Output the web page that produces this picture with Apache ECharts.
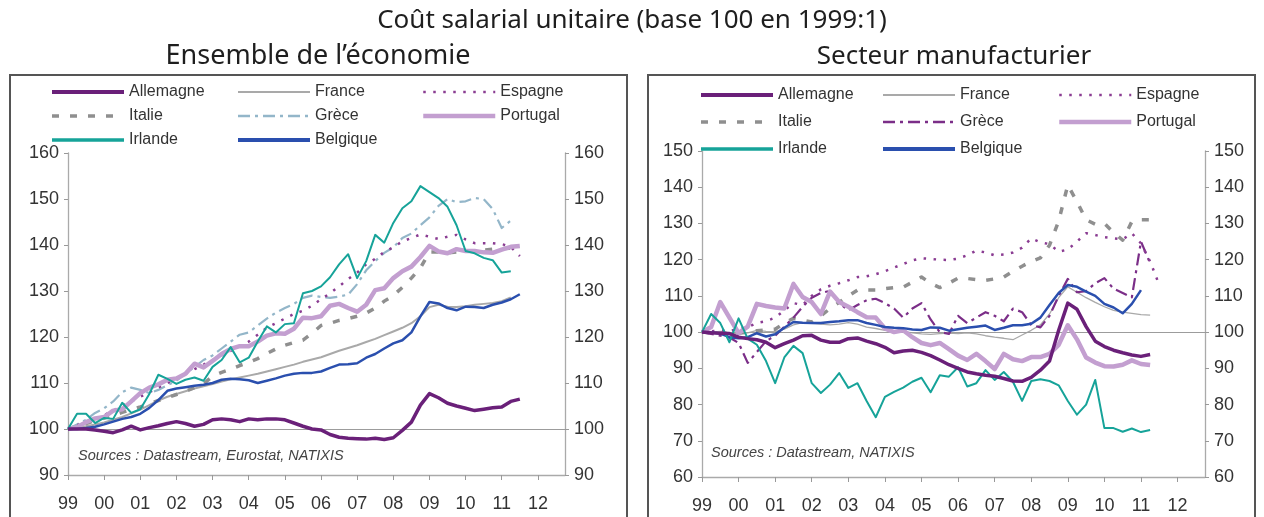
<!DOCTYPE html>
<html><head><meta charset="utf-8">
<script src="https://cdn.jsdelivr.net/npm/echarts@6/dist/echarts.min.js"></script>
<style>html,body{margin:0;padding:0;background:#fff}#c{width:1264px;height:517px}</style>
</head><body><div id="c"></div>
<script>
// ---- tick labels / categories (quarters 1999Q1 .. 2012Q4) ----
const years = ['99','00','01','02','03','04','05','06','07','08','09','10','11','12'];
const categories = [];
years.forEach(y => { for (let q = 1; q <= 4; q++) categories.push(y + 'T' + q); });

const names = ['Allemagne','France','Espagne','Italie','Grèce','Portugal','Irlande','Belgique'];

// ---- Ensemble de l'économie ----
const L_Allemagne = [100,100,100,99.8,99.5,99.2,99.8,100.6,99.8,100.3,100.7,101.2,101.6,101.2,100.6,101,102,102.2,102,101.6,102.2,102,102.2,102.2,102,101.3,100.6,100,99.8,98.8,98.2,98,97.9,97.8,98,97.7,98.1,99.7,101.5,105.2,107.7,106.8,105.6,105,104.5,104,104.3,104.6,104.8,106,106.5];
const L_France = [100,100.3,100.6,101,101.4,102,102.6,103.4,104.2,105.2,106.2,107,107.6,108.2,108.8,109.3,109.8,110.3,110.8,111.2,111.6,112,112.5,113,113.5,114,114.6,115.1,115.6,116.3,117,117.6,118.2,118.9,119.6,120.4,121.2,122,123,124.5,126.5,127,126.6,126.5,126.7,127,127.2,127.4,127.8,128.6];
const L_Espagne = [100,100.8,101.5,102.3,103,104,105,106,107,108,109,110,111,112,113,114,115,116,117,118,119,120.5,122,123,124,125,125.7,126.8,128.2,129.5,131,132.6,134,135.8,137,138.5,139.5,140.8,141.5,142.3,141.8,141.3,141.8,142.2,141.2,140.4,140.4,140.4,140.2,139.6,137.6];
const L_Italie = [100,100.6,101.2,101.8,102.4,103,103.6,104.2,104.8,105.5,106.2,106.8,107.5,108.2,109,109.8,111.5,112.3,113,113.8,114.5,115.3,116.4,117.4,118.2,118.8,119.3,120.8,122.5,123,123.6,124,124.5,125.2,126.3,127.8,129,130.8,132.8,135,138.5,138.5,138.3,138.5,138.6,138.7,138.9,139.1,139.2,139.3,139.4];
const L_Grece = [100,101,102,103.5,104.5,106,108,109,108.5,107.8,108.5,109.5,110.5,112,113.5,115,116,117.5,119,120.5,121,122.5,124,125.3,126.3,127.2,128.5,129,128.7,128.5,128.8,129.2,131.5,134.5,136.5,138.3,139.5,141.5,142.5,144.3,146,148.5,150,149.3,149.5,150.2,150,147.8,143.7,145.3];
const L_Portugal = [100,100.4,101.5,102.3,102.6,104,104.3,106,107.8,109,109.7,110.7,111,112,114.2,113.4,114.8,116.3,117.4,118,118,119,120.3,120.8,120.7,121.8,124.2,124.1,124.5,126.8,127.2,126.3,125.5,127,130.2,130.6,132.8,134.3,135.3,137.4,139.8,138.6,138.2,139.1,138.7,138.7,138.4,138.3,139,139.6,139.8];
const L_Irlande = [100,103.3,103.3,101.3,102.4,102.2,105.7,103.5,104.3,107.6,111.8,110.9,109.8,110.7,111.2,110.5,113.5,115,117.8,114.5,115.5,119,122.3,121,122.8,123,129.5,130,131,133,135.8,138,132.8,136.5,142.2,140.5,144.8,148,149.5,152.8,151.5,150.2,148.3,144.3,138.7,138.2,137.2,136.7,134,134.3];
const L_Belgique = [100,100,100.2,100.5,101,101.6,102.2,102.6,103.3,104.6,106.3,108.3,108.8,109.1,109.4,109.6,110,110.7,110.9,110.8,110.6,110,110.5,111,111.6,112,112.2,112.2,112.5,113.3,114,114.1,114.3,115.5,116.3,117.5,118.6,119.3,121,124.5,127.6,127.3,126.3,125.8,126.6,126.5,126.3,127,127.5,128.2,129.3];

// ---- Secteur manufacturier ----
const R_Allemagne = [100,99.8,99.7,99.6,98.6,98.2,97.9,97.2,95.7,96.8,97.8,99,99.1,97.8,97.2,97.2,98.2,98.4,97.5,96.8,95.8,94.3,94.8,95,94.4,93.5,92.3,91,90,89,88.5,88.1,87.8,87.2,86.5,86.4,87.5,89.5,92,100.5,108,106.3,101.5,97.5,96,95,94.3,93.7,93.3,93.8];
const R_France = [100,100,100.2,99.8,99.6,99.8,100.5,100.2,100.1,100.8,102,102.6,102.4,102.2,102,102.2,102.6,102.2,101.4,101,100.5,100.3,100.2,99.8,99.5,99.4,99.6,99.7,99.6,99.8,99.5,99,98.6,98.3,97.9,99.2,100.5,102,105,109.5,112.5,111,109.5,108.2,107,106,105.5,105.2,104.8,104.7];
const R_Espagne = [100,100.2,100.5,100.3,100.8,101.4,102.5,103,104,106,108,107.5,110,111.8,112.8,113.5,114.3,115.2,115.4,116,116.8,117.8,118.8,119.8,120.4,120.2,120,119.9,120.3,121.2,122.5,122,121.2,121.4,122,123.3,125.9,124.8,124.3,122.2,122.8,125,127.3,126.8,126.2,125.9,125.6,127.3,124.5,119.5,113];
const R_Italie = [100,99.8,99.6,99.6,99.7,100,100.4,100.6,100.8,102.5,103.8,103.3,102.8,104.5,106.5,108.2,110,111.6,111.6,111.6,112,112.3,112.4,113.8,115.2,113.5,112.3,113.5,114.9,114.8,114.5,114.3,114.7,115.2,116.8,118.2,119.5,120.5,124,130.7,140.6,136,131,129.8,130,127.5,125.4,130.5,131,131,130.9];
const R_Grece = [100,99.5,99,98.5,97,91.5,94.5,97.5,99,101.5,104,107,109.5,110.8,111.4,108,106,107.5,108.8,109.2,108,106.5,104,106.5,108,103.5,100,99.5,104.5,102.5,104,105.5,104.5,103,106.5,105.5,102,101.3,104.5,110,114.7,111,111.3,113.5,114.9,112,110.8,109.6,125,119];
const R_Portugal = [100,101.4,108.3,104,99.7,101.5,107.8,107.2,106.8,106.5,113.3,109.7,108.3,105,111.2,108.3,107,105.5,104.1,104,101,100,100.5,98.6,97,96.4,97,95.3,93.5,92.3,94,92,89.8,94,92.5,92,93.1,93.1,94,96.5,101.9,98,93,91.6,90.6,90.5,91,92.2,91.2,90.9];
const R_Irlande = [100,105,102.5,97.2,103.8,98.2,96.5,92,85.9,93,96.2,94.2,85.9,83.2,85.5,88.7,84.6,85.9,81,76.5,82.1,83.5,84.7,86.3,87.4,83.4,88.1,87.7,90.3,85,85.9,89.5,86.8,89,86.3,81,86.5,87,86.5,85.3,81,77.2,80,86.8,73.5,73.5,72.5,73.4,72.4,73];
const R_Belgique = [100,99.9,99.6,98.6,98.3,98.6,99.7,98.8,99.4,101.2,102.8,102.6,102.5,102.5,102.8,103,103.3,103.3,102.5,102,101.4,101.2,101.1,100.7,100.6,101.3,101.2,100.4,100.8,101.2,101.5,101.8,100.6,101.2,101.9,101.9,102.3,104,107.5,110.8,113,112.5,111.2,110,107.8,106.8,105.2,107.8,111.6];

// ---- styles ----
const C = {
  Allemagne: '#6a2079', France: '#a9a9a9', Espagne: '#8a3c92', Italie: '#8f8f8f',
  GreceL: '#93b6c9', GreceR: '#7b2e88', Portugal: '#c39fd0', Irlande: '#16a399', Belgique: '#2a4fae'
};
function style(name, side) {
  switch (name) {
    case 'Allemagne': return {color: C.Allemagne, width: 3.5, type: 'solid'};
    case 'France': return {color: C.France, width: side === 'L' ? 2 : 1.3, type: 'solid'};
    case 'Espagne': return {color: C.Espagne, width: 2.5, type: [2.5, 7.5]};
    case 'Italie': return {color: C.Italie, width: 3.5, type: [7, 11]};
    case 'Grèce': return {color: side === 'L' ? C.GreceL : C.GreceR, width: 2.2, type: [12, 5, 3, 5]};
    case 'Portugal': return {color: C.Portugal, width: 4.5, type: 'solid'};
    case 'Irlande': return {color: C.Irlande, width: 2, type: 'solid'};
    case 'Belgique': return {color: C.Belgique, width: 2.5, type: 'solid'};
  }
}
const legendWidth = {Allemagne: 4, France: 2, Espagne: 2.5, Italie: 3.5, 'Grèce': 2.5, Portugal: 4.5, Irlande: 3.5, Belgique: 4};
const Ldata = {Allemagne: L_Allemagne, France: L_France, Espagne: L_Espagne, Italie: L_Italie, 'Grèce': L_Grece, Portugal: L_Portugal, Irlande: L_Irlande, Belgique: L_Belgique};
const Rdata = {Allemagne: R_Allemagne, France: R_France, Espagne: R_Espagne, Italie: R_Italie, 'Grèce': R_Grece, Portugal: R_Portugal, Irlande: R_Irlande, Belgique: R_Belgique};
const drawOrder = ['France','Italie','Grèce','Espagne','Portugal','Belgique','Irlande','Allemagne'];

const series = [];
[['L', Ldata, 0], ['R', Rdata, 1]].forEach(([side, data, gi]) => {
  drawOrder.forEach((n, k) => {
    const ls = style(n, side);
    const s = {
      name: n, type: 'line', xAxisIndex: gi, yAxisIndex: gi * 2,
      data: data[n], symbol: 'none', showSymbol: false, animation: false,
      lineStyle: Object.assign({cap: 'butt', join: 'round'}, ls),
      itemStyle: {color: ls.color}, z: 3 + k
    };
    if (k === 0) {
      s.markLine = {silent: true, symbol: ['none', 'none'], label: {show: false},
        lineStyle: {color: '#9c9c9c', width: 1.2, type: 'solid'}, data: [{yAxis: 100}], animation: false};
    }
    series.push(s);
  });
});

const axisFont = {fontFamily: 'Liberation Sans', fontSize: 18, color: '#333'};
function xAxis(gi) {
  return {
    type: 'category', gridIndex: gi, data: categories, boundaryGap: false,
    axisLine: {lineStyle: {color: '#aaa', width: 1.3}},
    axisTick: {interval: (i) => i % 4 === 0, length: 5, lineStyle: {color: '#999'}},
    axisLabel: Object.assign({interval: (i) => i % 4 === 0, margin: 20,
      formatter: (v) => v.split('T')[0]}, axisFont),
    splitLine: {show: false}
  };
}
function yAxes(gi, min, max) {
  return ['left', 'right'].map(pos => ({
    type: 'value', gridIndex: gi, position: pos, min: min, max: max, interval: 10,
    axisLine: {show: true, lineStyle: {color: '#aaa', width: 1.3}},
    axisTick: {show: true, length: 4, lineStyle: {color: '#999'}},
    axisLabel: Object.assign({margin: 9}, axisFont),
    splitLine: {show: false}
  }));
}

const legendText = {fontFamily: 'Liberation Sans', fontSize: 16, color: '#333'};
function legendCol(left, top, gap, items, side) {
  return {
    left: left, top: top, orient: 'vertical', itemWidth: 72, itemHeight: 14, itemGap: gap,
    selectedMode: false, itemStyle: {opacity: 0, color: 'rgba(0,0,0,0)', borderWidth: 0},
    textStyle: legendText,
    data: items.map(n => {
      const s = style(n, side);
      return {name: n, lineStyle: {color: s.color, width: legendWidth[n], type: s.type}};
    })
  };
}
const colA = ['Allemagne', 'Italie', 'Irlande'];
const colB = ['France', 'Grèce', 'Belgique'];
const colC = ['Espagne', 'Portugal'];

const chart = echarts.init(document.getElementById('c'), null, {renderer: 'canvas'});
chart.setOption({
  backgroundColor: '#fff',
  animation: false,
  grid: [
    {left: 68, right: 699, top: 153, bottom: 42},
    {left: 702, right: 59, top: 151, bottom: 40}
  ],
  xAxis: [xAxis(0), xAxis(1)],
  yAxis: [...yAxes(0, 90, 160), ...yAxes(1, 60, 150)],
  legend: [
    legendCol(45, 79, 8, colA, 'L'), legendCol(231, 79, 8, colB, 'L'), legendCol(416, 79, 8, colC, 'L'),
    legendCol(694, 82, 11, colA, 'R'), legendCol(876, 82, 11, colB, 'R'), legendCol(1052, 82, 11, colC, 'R')
  ],
  graphic: [
    {type: 'rect', shape: {x: 10, y: 75, width: 617, height: 470}, style: {fill: 'none', stroke: '#555', lineWidth: 2}, z: -1},
    {type: 'rect', shape: {x: 648, y: 75, width: 607, height: 470}, style: {fill: 'none', stroke: '#555', lineWidth: 2}, z: -1},
    {type: 'text', x: 632, y: 21, style: {text: 'Coût salarial unitaire (base 100 en 1999:1)', textAlign: 'center', textVerticalAlign: 'middle', font: '26px "Noto Sans"', fill: '#1e1e1e'}},
    {type: 'text', x: 318, y: 56, style: {text: 'Ensemble de l\u2019économie', textAlign: 'center', textVerticalAlign: 'middle', font: '27px "Noto Sans"', fill: '#1e1e1e'}},
    {type: 'text', x: 954, y: 57, style: {text: 'Secteur manufacturier', textAlign: 'center', textVerticalAlign: 'middle', font: '26px "Noto Sans"', fill: '#1e1e1e'}},
    {type: 'text', x: 78, y: 456, style: {text: 'Sources : Datastream, Eurostat, NATIXIS', textVerticalAlign: 'middle', font: 'italic 14.5px "Liberation Sans"', fill: '#444'}},
    {type: 'text', x: 711, y: 453, style: {text: 'Sources : Datastream, NATIXIS', textVerticalAlign: 'middle', font: 'italic 14.5px "Liberation Sans"', fill: '#444'}}
  ],
  series: series
});
</script>
</body></html>
